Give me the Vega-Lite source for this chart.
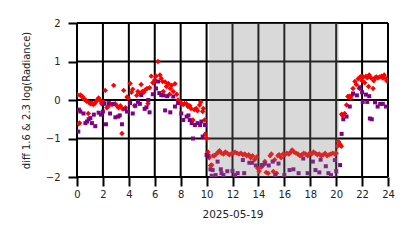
{
  "$schema": "https://vega.github.io/schema/vega-lite/v6.json",
  "width": 311,
  "height": 154,
  "autosize": "none",
  "padding": {"left": 77, "top": 23, "right": 26, "bottom": 71},
  "background": "white",
  "config": {
    "view": {"stroke": null},
    "font": "DejaVu Sans",
    "axis": {
      "grid": false,
      "tickColor": "#000000", "tickWidth": 2, "tickSize": 9, "tickOpacity": 1,
      "domain": false, "labelOverlap": false, "labelFlush": false,
      "labelFont": "DejaVu Sans", "labelFontSize": 10, "labelColor": "#222",
      "titleFont": "DejaVu Sans", "titleFontSize": 10, "titleFontWeight": "normal", "titleColor": "#222"
    }
  },
  "datasets": {
    "night": [{"start": 10.2, "end": 20.2}],
    "gx": [{"g":0},{"g":2},{"g":4},{"g":6},{"g":8},{"g":10},{"g":12},{"g":14},{"g":16},{"g":18},{"g":20},{"g":22},{"g":24}],
    "gy": [{"g":-2},{"g":-1},{"g":0},{"g":1},{"g":2}],
    "pts": [
      {"t":0.05,"v":0.13,"s":"a"},{"t":0.12,"v":-0.62,"s":"a"},{"t":0.2,"v":-0.6,"s":"a"},{"t":0.26,"v":0.13,"s":"a"},{"t":0.35,"v":0.1,"s":"a"},{"t":0.45,"v":0.08,"s":"a"},{"t":0.55,"v":0.02,"s":"a"},{"t":0.65,"v":0.0,"s":"a"},{"t":0.75,"v":-0.03,"s":"a"},{"t":0.87,"v":-0.35,"s":"a"},{"t":0.95,"v":-0.07,"s":"a"},{"t":1.05,"v":-0.1,"s":"a"},{"t":1.15,"v":-0.08,"s":"a"},{"t":1.26,"v":-0.12,"s":"a"},{"t":1.35,"v":-0.1,"s":"a"},{"t":1.45,"v":-0.05,"s":"a"},{"t":1.55,"v":0.0,"s":"a"},{"t":1.67,"v":0.05,"s":"a"},{"t":1.8,"v":-0.02,"s":"a"},{"t":1.9,"v":-0.1,"s":"a"},{"t":2.05,"v":-0.05,"s":"a"},{"t":2.18,"v":0.25,"s":"a"},{"t":2.3,"v":-0.2,"s":"a"},{"t":2.44,"v":-0.15,"s":"a"},{"t":2.55,"v":-0.1,"s":"a"},{"t":2.7,"v":-0.12,"s":"a"},{"t":2.83,"v":0.38,"s":"a"},{"t":2.95,"v":-0.1,"s":"a"},{"t":3.08,"v":-0.15,"s":"a"},{"t":3.2,"v":-0.2,"s":"a"},{"t":3.35,"v":-0.15,"s":"a"},{"t":3.47,"v":-0.87,"s":"a"},{"t":3.5,"v":-0.23,"s":"a"},{"t":3.6,"v":0.25,"s":"a"},{"t":3.75,"v":-0.2,"s":"a"},{"t":3.86,"v":0.08,"s":"a"},{"t":3.95,"v":0.05,"s":"a"},{"t":4.1,"v":0.43,"s":"a"},{"t":4.2,"v":0.2,"s":"a"},{"t":4.3,"v":0.28,"s":"a"},{"t":4.45,"v":-0.15,"s":"a"},{"t":4.6,"v":0.12,"s":"a"},{"t":4.7,"v":0.22,"s":"a"},{"t":4.85,"v":0.18,"s":"a"},{"t":4.95,"v":0.4,"s":"a"},{"t":5.05,"v":0.22,"s":"a"},{"t":5.15,"v":0.2,"s":"a"},{"t":5.25,"v":0.26,"s":"a"},{"t":5.4,"v":0.3,"s":"a"},{"t":5.48,"v":-0.09,"s":"a"},{"t":5.6,"v":0.32,"s":"a"},{"t":5.73,"v":0.62,"s":"a"},{"t":5.85,"v":0.45,"s":"a"},{"t":6.0,"v":0.52,"s":"a"},{"t":6.1,"v":0.62,"s":"a"},{"t":6.25,"v":1.0,"s":"a"},{"t":6.4,"v":0.65,"s":"a"},{"t":6.5,"v":0.56,"s":"a"},{"t":6.6,"v":0.48,"s":"a"},{"t":6.66,"v":0.22,"s":"a"},{"t":6.8,"v":0.47,"s":"a"},{"t":6.9,"v":0.35,"s":"a"},{"t":7.05,"v":0.43,"s":"a"},{"t":7.15,"v":0.15,"s":"a"},{"t":7.2,"v":0.3,"s":"a"},{"t":7.3,"v":0.38,"s":"a"},{"t":7.43,"v":0.22,"s":"a"},{"t":7.56,"v":0.42,"s":"a"},{"t":7.7,"v":0.15,"s":"a"},{"t":7.8,"v":0.0,"s":"a"},{"t":7.95,"v":-0.05,"s":"a"},{"t":8.05,"v":-0.09,"s":"a"},{"t":8.2,"v":-0.12,"s":"a"},{"t":8.3,"v":-0.09,"s":"a"},{"t":8.45,"v":-0.1,"s":"a"},{"t":8.56,"v":-0.17,"s":"a"},{"t":8.7,"v":-0.15,"s":"a"},{"t":8.8,"v":-0.22,"s":"a"},{"t":8.95,"v":-0.52,"s":"a"},{"t":9.05,"v":-0.25,"s":"a"},{"t":9.2,"v":-0.22,"s":"a"},{"t":9.3,"v":-0.28,"s":"a"},{"t":9.46,"v":-0.13,"s":"a"},{"t":9.55,"v":-0.05,"s":"a"},{"t":9.7,"v":-0.3,"s":"a"},{"t":9.75,"v":-0.22,"s":"a"},{"t":9.85,"v":-0.52,"s":"a"},{"t":9.9,"v":-0.88,"s":"a"},{"t":10.0,"v":-1.0,"s":"a"},{"t":10.1,"v":-1.35,"s":"a"},{"t":10.2,"v":-1.5,"s":"a"},{"t":10.3,"v":-1.7,"s":"a"},{"t":10.4,"v":-1.69,"s":"a"},{"t":10.5,"v":-1.45,"s":"a"},{"t":10.6,"v":-1.45,"s":"a"},{"t":10.75,"v":-1.4,"s":"a"},{"t":10.9,"v":-1.35,"s":"a"},{"t":11.0,"v":-1.32,"s":"a"},{"t":11.15,"v":-1.38,"s":"a"},{"t":11.3,"v":-1.4,"s":"a"},{"t":11.45,"v":-1.35,"s":"a"},{"t":11.6,"v":-1.38,"s":"a"},{"t":11.75,"v":-1.42,"s":"a"},{"t":11.9,"v":-1.4,"s":"a"},{"t":12.05,"v":-1.38,"s":"a"},{"t":12.2,"v":-1.36,"s":"a"},{"t":12.35,"v":-1.38,"s":"a"},{"t":12.5,"v":-1.4,"s":"a"},{"t":12.65,"v":-1.38,"s":"a"},{"t":12.8,"v":-1.42,"s":"a"},{"t":12.95,"v":-1.4,"s":"a"},{"t":13.1,"v":-1.45,"s":"a"},{"t":13.25,"v":-1.42,"s":"a"},{"t":13.4,"v":-1.5,"s":"a"},{"t":13.55,"v":-1.45,"s":"a"},{"t":13.7,"v":-1.55,"s":"a"},{"t":13.86,"v":-1.48,"s":"a"},{"t":13.95,"v":-1.77,"s":"a"},{"t":14.05,"v":-1.85,"s":"a"},{"t":14.2,"v":-1.75,"s":"a"},{"t":14.35,"v":-1.7,"s":"a"},{"t":14.5,"v":-1.6,"s":"a"},{"t":14.6,"v":-1.88,"s":"a"},{"t":14.75,"v":-1.9,"s":"a"},{"t":14.9,"v":-1.45,"s":"a"},{"t":15.0,"v":-1.4,"s":"a"},{"t":15.15,"v":-1.86,"s":"a"},{"t":15.25,"v":-1.55,"s":"a"},{"t":15.4,"v":-1.9,"s":"a"},{"t":15.5,"v":-1.45,"s":"a"},{"t":15.6,"v":-1.42,"s":"a"},{"t":15.75,"v":-1.5,"s":"a"},{"t":15.9,"v":-1.4,"s":"a"},{"t":16.05,"v":-1.42,"s":"a"},{"t":16.2,"v":-1.38,"s":"a"},{"t":16.35,"v":-1.4,"s":"a"},{"t":16.5,"v":-1.35,"s":"a"},{"t":16.6,"v":-1.3,"s":"a"},{"t":16.75,"v":-1.35,"s":"a"},{"t":16.9,"v":-1.38,"s":"a"},{"t":17.05,"v":-1.4,"s":"a"},{"t":17.2,"v":-1.45,"s":"a"},{"t":17.35,"v":-1.42,"s":"a"},{"t":17.5,"v":-1.38,"s":"a"},{"t":17.65,"v":-1.4,"s":"a"},{"t":17.8,"v":-1.45,"s":"a"},{"t":17.95,"v":-1.38,"s":"a"},{"t":18.1,"v":-1.4,"s":"a"},{"t":18.25,"v":-1.35,"s":"a"},{"t":18.4,"v":-1.38,"s":"a"},{"t":18.55,"v":-1.42,"s":"a"},{"t":18.7,"v":-1.4,"s":"a"},{"t":18.85,"v":-1.45,"s":"a"},{"t":19.0,"v":-1.42,"s":"a"},{"t":19.15,"v":-1.38,"s":"a"},{"t":19.3,"v":-1.45,"s":"a"},{"t":19.45,"v":-1.42,"s":"a"},{"t":19.6,"v":-1.4,"s":"a"},{"t":19.75,"v":-1.38,"s":"a"},{"t":19.9,"v":-1.4,"s":"a"},{"t":20.0,"v":-1.38,"s":"a"},{"t":20.1,"v":-1.2,"s":"a"},{"t":20.17,"v":-1.08,"s":"a"},{"t":20.3,"v":-1.15,"s":"a"},{"t":20.4,"v":-1.2,"s":"a"},{"t":20.42,"v":-0.37,"s":"a"},{"t":20.5,"v":-0.4,"s":"a"},{"t":20.65,"v":-0.35,"s":"a"},{"t":20.8,"v":-0.13,"s":"a"},{"t":20.9,"v":0.09,"s":"a"},{"t":21.0,"v":0.1,"s":"a"},{"t":21.1,"v":0.05,"s":"a"},{"t":21.2,"v":0.12,"s":"a"},{"t":21.3,"v":0.3,"s":"a"},{"t":21.45,"v":0.48,"s":"a"},{"t":21.55,"v":0.4,"s":"a"},{"t":21.7,"v":0.55,"s":"a"},{"t":21.8,"v":0.3,"s":"a"},{"t":21.85,"v":0.6,"s":"a"},{"t":21.95,"v":0.62,"s":"a"},{"t":22.0,"v":0.5,"s":"a"},{"t":22.1,"v":0.6,"s":"a"},{"t":22.2,"v":0.45,"s":"a"},{"t":22.3,"v":0.62,"s":"a"},{"t":22.4,"v":0.58,"s":"a"},{"t":22.5,"v":0.35,"s":"a"},{"t":22.55,"v":0.65,"s":"a"},{"t":22.7,"v":0.57,"s":"a"},{"t":22.85,"v":0.3,"s":"a"},{"t":22.9,"v":0.5,"s":"a"},{"t":23.0,"v":0.58,"s":"a"},{"t":23.1,"v":0.6,"s":"a"},{"t":23.2,"v":0.57,"s":"a"},{"t":23.35,"v":0.6,"s":"a"},{"t":23.5,"v":0.62,"s":"a"},{"t":23.6,"v":0.57,"s":"a"},{"t":23.7,"v":0.65,"s":"a"},{"t":23.85,"v":0.56,"s":"a"},{"t":23.9,"v":0.5,"s":"a"},
      {"t":0.1,"v":-0.82,"s":"b"},{"t":0.15,"v":-0.25,"s":"b"},{"t":0.26,"v":-0.3,"s":"b"},{"t":0.5,"v":-0.35,"s":"b"},{"t":0.65,"v":-0.6,"s":"b"},{"t":0.77,"v":-0.56,"s":"b"},{"t":0.9,"v":-0.5,"s":"b"},{"t":1.03,"v":-0.47,"s":"b"},{"t":1.15,"v":-0.6,"s":"b"},{"t":1.3,"v":-0.38,"s":"b"},{"t":1.41,"v":-0.68,"s":"b"},{"t":1.67,"v":-0.33,"s":"b"},{"t":1.85,"v":-0.38,"s":"b"},{"t":2.0,"v":-0.3,"s":"b"},{"t":2.1,"v":-0.1,"s":"b"},{"t":2.24,"v":-0.63,"s":"b"},{"t":2.44,"v":-0.08,"s":"b"},{"t":2.55,"v":-0.35,"s":"b"},{"t":2.8,"v":-0.1,"s":"b"},{"t":2.96,"v":-0.45,"s":"b"},{"t":3.18,"v":-0.43,"s":"b"},{"t":3.3,"v":-0.4,"s":"b"},{"t":3.47,"v":-0.63,"s":"b"},{"t":3.7,"v":-0.23,"s":"b"},{"t":3.86,"v":-0.3,"s":"b"},{"t":4.1,"v":-0.08,"s":"b"},{"t":4.3,"v":-0.35,"s":"b"},{"t":4.5,"v":-0.15,"s":"b"},{"t":4.7,"v":-0.05,"s":"b"},{"t":4.85,"v":-0.1,"s":"b"},{"t":4.96,"v":0.13,"s":"b"},{"t":5.22,"v":-0.23,"s":"b"},{"t":5.36,"v":-0.19,"s":"b"},{"t":5.5,"v":0.0,"s":"b"},{"t":5.6,"v":-0.32,"s":"b"},{"t":5.85,"v":0.15,"s":"b"},{"t":6.1,"v":0.3,"s":"b"},{"t":6.25,"v":0.48,"s":"b"},{"t":6.35,"v":0.18,"s":"b"},{"t":6.5,"v":0.13,"s":"b"},{"t":6.65,"v":0.12,"s":"b"},{"t":6.8,"v":-0.27,"s":"b"},{"t":6.95,"v":0.1,"s":"b"},{"t":7.2,"v":-0.32,"s":"b"},{"t":7.43,"v":0.09,"s":"b"},{"t":7.56,"v":-0.17,"s":"b"},{"t":7.8,"v":-0.08,"s":"b"},{"t":8.05,"v":-0.35,"s":"b"},{"t":8.2,"v":-0.52,"s":"b"},{"t":8.46,"v":-0.43,"s":"b"},{"t":8.6,"v":-0.4,"s":"b"},{"t":8.7,"v":-0.52,"s":"b"},{"t":8.85,"v":-0.6,"s":"b"},{"t":8.95,"v":-1.0,"s":"b"},{"t":9.1,"v":-0.65,"s":"b"},{"t":9.3,"v":-0.6,"s":"b"},{"t":9.5,"v":-0.65,"s":"b"},{"t":9.6,"v":-0.56,"s":"b"},{"t":9.7,"v":-0.95,"s":"b"},{"t":9.88,"v":-0.65,"s":"b"},{"t":10.0,"v":-1.43,"s":"b"},{"t":10.15,"v":-1.45,"s":"b"},{"t":10.3,"v":-1.8,"s":"b"},{"t":10.47,"v":-1.82,"s":"b"},{"t":10.4,"v":-1.97,"s":"b"},{"t":10.7,"v":-1.95,"s":"b"},{"t":10.85,"v":-1.6,"s":"b"},{"t":11.1,"v":-1.8,"s":"b"},{"t":11.15,"v":-1.9,"s":"b"},{"t":11.3,"v":-1.95,"s":"b"},{"t":11.6,"v":-1.85,"s":"b"},{"t":12.0,"v":-1.84,"s":"b"},{"t":12.2,"v":-1.95,"s":"b"},{"t":12.4,"v":-1.9,"s":"b"},{"t":12.8,"v":-1.56,"s":"b"},{"t":12.9,"v":-1.9,"s":"b"},{"t":13.3,"v":-1.63,"s":"b"},{"t":13.5,"v":-1.63,"s":"b"},{"t":13.8,"v":-1.7,"s":"b"},{"t":14.25,"v":-1.69,"s":"b"},{"t":14.5,"v":-1.65,"s":"b"},{"t":14.8,"v":-1.7,"s":"b"},{"t":15.1,"v":-1.6,"s":"b"},{"t":15.3,"v":-1.95,"s":"b"},{"t":15.55,"v":-1.65,"s":"b"},{"t":16.0,"v":-1.95,"s":"b"},{"t":16.4,"v":-1.82,"s":"b"},{"t":16.7,"v":-1.8,"s":"b"},{"t":17.1,"v":-1.9,"s":"b"},{"t":17.46,"v":-1.52,"s":"b"},{"t":17.8,"v":-1.9,"s":"b"},{"t":18.2,"v":-1.6,"s":"b"},{"t":18.4,"v":-1.82,"s":"b"},{"t":18.7,"v":-1.88,"s":"b"},{"t":18.8,"v":-1.55,"s":"b"},{"t":19.2,"v":-1.72,"s":"b"},{"t":19.4,"v":-1.9,"s":"b"},{"t":19.6,"v":-1.95,"s":"b"},{"t":19.9,"v":-1.56,"s":"b"},{"t":20.0,"v":-1.85,"s":"b"},{"t":20.3,"v":-1.69,"s":"b"},{"t":20.42,"v":-0.88,"s":"b"},{"t":20.55,"v":-0.5,"s":"b"},{"t":20.8,"v":-0.43,"s":"b"},{"t":21.05,"v":-0.17,"s":"b"},{"t":21.3,"v":0.17,"s":"b"},{"t":21.6,"v":0.12,"s":"b"},{"t":21.8,"v":0.33,"s":"b"},{"t":22.0,"v":0.2,"s":"b"},{"t":22.05,"v":-0.05,"s":"b"},{"t":22.3,"v":0.14,"s":"b"},{"t":22.4,"v":-0.05,"s":"b"},{"t":22.55,"v":0.1,"s":"b"},{"t":22.6,"v":-0.48,"s":"b"},{"t":22.75,"v":-0.5,"s":"b"},{"t":23.0,"v":-0.06,"s":"b"},{"t":23.2,"v":-0.17,"s":"b"},{"t":23.4,"v":-0.1,"s":"b"},{"t":23.6,"v":-0.1,"s":"b"},{"t":23.85,"v":-0.17,"s":"b"}
    ]
  },
  "layer": [
    {
      "data": {"name": "gx"},
      "mark": {"type": "rule", "color": "#000000", "strokeWidth": 2},
      "encoding": {
        "x": {"field": "g", "type": "quantitative", "scale": {"domain": [0, 24], "nice": false},
              "axis": {"tickCount": 12, "title": "2025-05-19", "labelPadding": 3, "titlePadding": 10, "titleFontSize": 10.5}}
      }
    },
    {
      "data": {"name": "gy"},
      "mark": {"type": "rule", "color": "#000000", "strokeWidth": 2},
      "encoding": {
        "y": {"field": "g", "type": "quantitative", "scale": {"domain": [-2, 2], "nice": false},
              "axis": {"tickCount": 4, "title": "diff 1.6 & 2.3  log(Radiance)", "labelPadding": 8, "titlePadding": 14}}
      }
    },
    {
      "data": {"name": "pts"},
      "mark": {"type": "point", "filled": true, "opacity": 1, "clip": true},
      "encoding": {
        "x": {"field": "t", "type": "quantitative"},
        "y": {"field": "v", "type": "quantitative"},
        "color": {"field": "s", "type": "nominal", "scale": {"domain": ["a","b"], "range": ["#ff0000", "#800080"]}, "legend": null},
        "shape": {"field": "s", "type": "nominal", "scale": {"domain": ["a","b"], "range": ["diamond", "square"]}, "legend": null},
        "size": {"field": "s", "type": "nominal", "scale": {"domain": ["a","b"], "range": [30, 16]}, "legend": null},
        "order": {"field": "s", "type": "nominal"}
      }
    },
    {
      "data": {"name": "night"},
      "mark": {"type": "rect", "color": "gray", "opacity": 0.3},
      "encoding": {
        "x": {"field": "start", "type": "quantitative"},
        "x2": {"field": "end"}
      }
    }
  ]
}
